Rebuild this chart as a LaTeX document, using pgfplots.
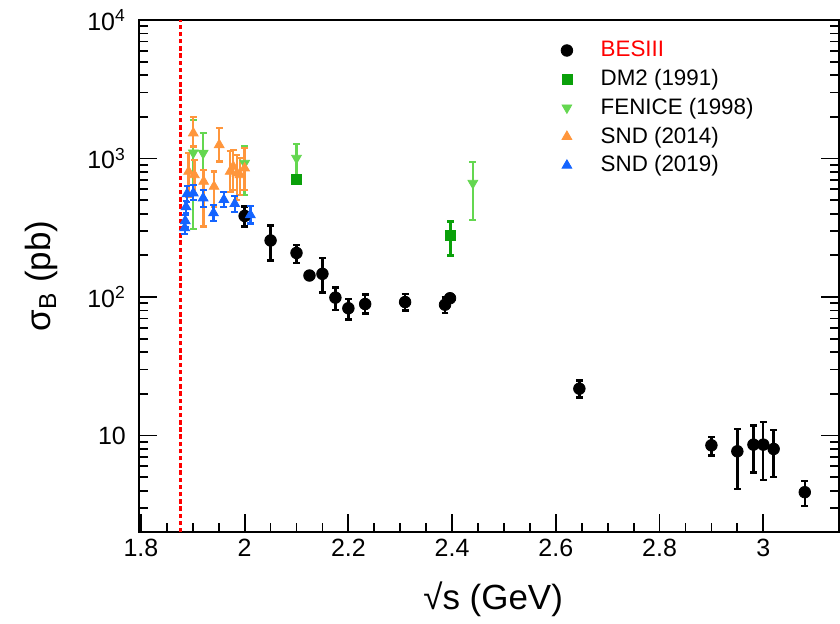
\documentclass[border=0pt]{standalone}
\usepackage{fontspec}
\setmainfont{Liberation Sans}
\usepackage{pgfplots}
\usepackage{pgfplotstable}
\pgfplotsset{compat=1.18}

\definecolor{dmgreen}{RGB}{10,160,10}
\definecolor{fengreen}{RGB}{100,215,80}
\definecolor{sndorange}{RGB}{255,150,60}
\definecolor{sndblue}{RGB}{20,100,255}

% BESIII
\pgfplotstableread{
x y ep em
2.0000 385 66 62
2.0500 256 73 72
2.1000 208 30 32
2.1250 143 8 8
2.1500 147 44 39
2.1750 99 18 18
2.2000 83 14 14
2.2324 89 15 13
2.3094 92 13 12
2.3864 88 11 11
2.3960 98 5 5
2.6454 21.8 3.1 3.0
2.9000 8.5 1.3 1.3
2.9500 7.7 3.5 3.6
2.9810 8.6 3.2 3.2
3.0000 8.6 3.9 3.8
3.0200 8.0 3.0 3.0
3.0800 3.9 0.8 0.8
}\besiii

% DM2 (1991)
\pgfplotstableread{
x y ep em
2.100 710 15 15
2.397 277 74 77
}\dmtwo

% FENICE (1998)
\pgfplotstableread{
x y ep em
1.901 1100 790 790
1.920 1093 430 430
2.000 926 294 380
2.100 1006 270 270
2.440 664 278 303
}\fenice

% SND (2014)
\pgfplotstableread{
x y ep em
1.892 805 288 273
1.901 1524 464 304
1.903 762 216 215
1.921 682 146 359
1.941 628 177 178
1.951 1255 401 304
1.972 805 331 230
1.978 875 280 281
1.985 784 279 280
1.991 762 249 215
2.000 852 336 258
}\sndA

% SND (2019)
\pgfplotstableread{
x y ep em
1.8845 316 30 30
1.8855 355 35 35
1.8870 448 45 45
1.8890 556 79 69
1.9010 563 83 59
1.9200 518 76 70
1.9400 404 59 49
1.9600 504 71 59
1.9810 471 67 59
2.0110 392 63 53
}\sndB

\pgfplotsset{
  errstyle/.style={error bars/.cd, y dir=both, y explicit,
    error bar style={line width=1.2pt},
    error mark options={rotate=90, line width=1.2pt, mark size=1.7pt}},
}

\begin{document}
\begin{tikzpicture}
\path (-69.5pt,-40.5pt) rectangle (350.5pt,266.5pt);
\begin{axis}[
  scale only axis, width=350.5pt, height=256.5pt,
  at={(0,0)}, anchor=south west,
  ymode=log,
  xmin=1.796, xmax=3.146, ymin=2, ymax=10000,
  xtick={1.8,2.0,2.2,2.4,2.6,2.8,3.0},
  xticklabels={1.8,2,2.2,2.4,2.6,2.8,3},
  minor x tick num=3,
  ytick={10,100,1000,10000},
  yticklabels={10,10\textsuperscript{2},10\textsuperscript{3},10\textsuperscript{4}},
  minor ytick={2,3,4,5,6,7,8,9,20,30,40,50,60,70,80,90,200,300,400,500,600,700,800,900,2000,3000,4000,5000,6000,7000,8000,9000},
  xtick pos=lower, ytick pos=both,
  tick align=inside,
  major tick length=9pt, minor tick length=4.5pt,
  tick style={black, line width=0.9pt},
  axis line style={line width=1pt},
  ticklabel style={font=\fontsize{12.5}{14}\selectfont},
  yticklabel style={xshift=-3pt},
  xlabel={√s (GeV)}, ylabel={σ\textsubscript{B} (pb)},
  every axis x label/.style={at={(axis description cs:0.506,-0.13)}, anchor=center,
    font=\fontsize{17.5}{20}\selectfont},
  every axis y label/.style={at={(axis description cs:-0.1384,0.5)}, rotate=90, anchor=center,
    font=\fontsize{17.5}{20}\selectfont},
  legend style={at={(axis description cs:0.594,0.975)}, anchor=north west,
    draw=none, fill=none, font=\fontsize{11.2}{13}\selectfont, row sep=0.8pt,
    /tikz/every odd column/.append style={column sep=12pt}},
  legend cell align=left,
]
\addplot[red, line width=1.1pt, dash pattern=on 2.2pt off 1.4pt, forget plot]
  coordinates {(1.8765,2) (1.8765,10000)};

\addplot[only marks, color=black, mark=*, mark size=2.9pt, errstyle]
  table[x=x, y=y, y error plus=ep, y error minus=em]{\besiii};
\addlegendentry{\textcolor{red}{BESIII}}

\addplot[only marks, color=dmgreen, mark=square*, mark size=2.5pt, errstyle]
  table[x=x, y=y, y error plus=ep, y error minus=em]{\dmtwo};
\addlegendentry{DM2 (1991)}

\addplot[only marks, color=fengreen, mark=triangle*, mark size=2.8pt,
  mark options={rotate=180}, errstyle]
  table[x=x, y=y, y error plus=ep, y error minus=em]{\fenice};
\addlegendentry{FENICE (1998)}

\addplot[only marks, color=sndorange, mark=triangle*, mark size=2.8pt, errstyle]
  table[x=x, y=y, y error plus=ep, y error minus=em]{\sndA};
\addlegendentry{SND (2014)}

\addplot[only marks, color=sndblue, mark=triangle*, mark size=2.8pt, errstyle]
  table[x=x, y=y, y error plus=ep, y error minus=em]{\sndB};
\addlegendentry{SND (2019)}
\end{axis}
\end{tikzpicture}
\end{document}
